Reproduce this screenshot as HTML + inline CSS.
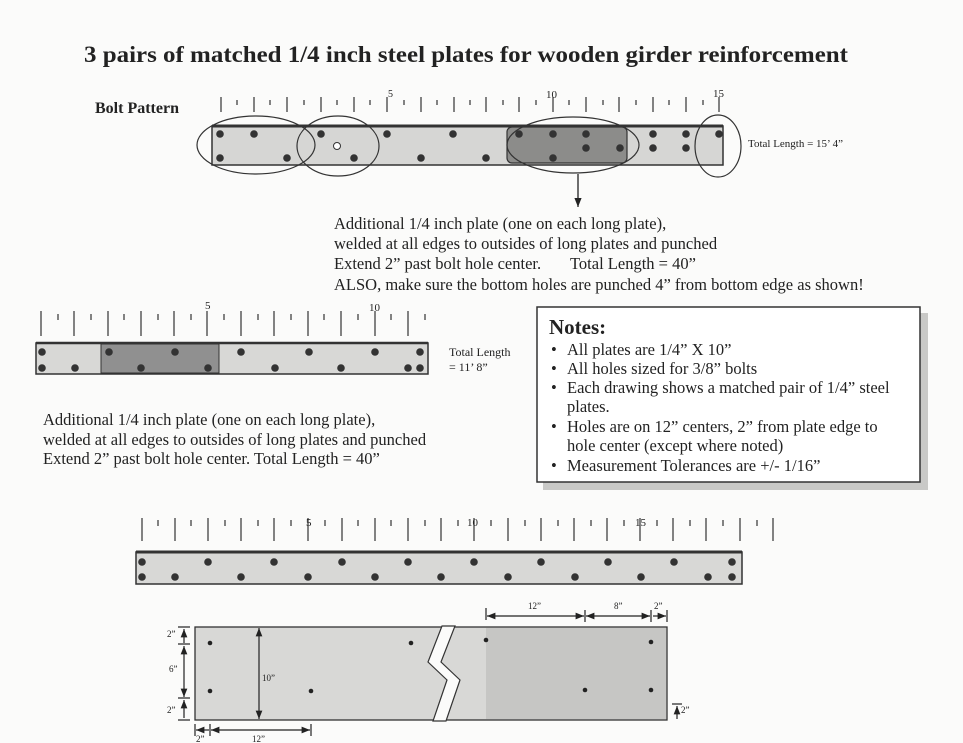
<!DOCTYPE html>
<html><head><meta charset="utf-8"><style>
html,body{margin:0;padding:0;background:#fbfbfa;}
svg{display:block;}
text{font-family:"Liberation Serif",serif;fill:#222;}
</style></head><body>
<svg width="963" height="743" viewBox="0 0 963 743" xmlns="http://www.w3.org/2000/svg">
<defs>
<marker id="ah" viewBox="0 0 10 10" refX="10" refY="5" markerWidth="7" markerHeight="7" orient="auto-start-reverse"><path d="M0,1 L10,5 L0,9 z" fill="#222"/></marker>
</defs>
<rect width="963" height="743" fill="#fbfbfa"/>
<text x="84" y="62" font-size="23" font-weight="bold" textLength="764" lengthAdjust="spacingAndGlyphs">3 pairs of matched 1/4 inch steel plates for wooden girder reinforcement</text>
<text x="95" y="113" font-size="16" font-weight="bold">Bolt Pattern</text>

<!-- Ruler 1 -->
<g stroke="#333" stroke-width="1.2">
<path d="M221 97V112M254 97V112M287 97V112M321 97V112M354 97V112M387 97V112M421 97V112M454 97V112M486 97V112M519 97V112M553 97V112M586 97V112M619 97V112M653 97V112M686 97V112M719 97V112"/>
<path d="M237 100V105M270 100V105M304 100V105M337 100V105M370 100V105M404 100V105M437 100V105M470 100V105M503 100V105M536 100V105M569 100V105M603 100V105M636 100V105M669 100V105M703 100V105"/>
</g>
<text x="388" y="97" font-size="10">5</text>
<text x="546" y="98" font-size="11">10</text>
<text x="713" y="97" font-size="11">15</text>

<rect x="212" y="126" width="511" height="39" fill="#d6d6d4" stroke="#333" stroke-width="1.5"/>
<line x1="212" y1="126" x2="723" y2="126" stroke="#333" stroke-width="3"/>
<rect x="507" y="127" width="120" height="36" rx="5" fill="#8c8c8a" stroke="#333" stroke-width="1.2"/>
<g fill="#333">
<circle cx="220" cy="134" r="3.8"/><circle cx="254" cy="134" r="3.8"/><circle cx="321" cy="134" r="3.8"/><circle cx="387" cy="134" r="3.8"/><circle cx="453" cy="134" r="3.8"/><circle cx="519" cy="134" r="3.8"/><circle cx="553" cy="134" r="3.8"/><circle cx="586" cy="134" r="3.8"/><circle cx="653" cy="134" r="3.8"/><circle cx="686" cy="134" r="3.8"/><circle cx="719" cy="134" r="3.8"/>
<circle cx="586" cy="148" r="3.8"/><circle cx="620" cy="148" r="3.8"/><circle cx="653" cy="148" r="3.8"/><circle cx="686" cy="148" r="3.8"/>
<circle cx="220" cy="158" r="3.8"/><circle cx="287" cy="158" r="3.8"/><circle cx="354" cy="158" r="3.8"/><circle cx="421" cy="158" r="3.8"/><circle cx="486" cy="158" r="3.8"/><circle cx="553" cy="158" r="3.8"/>
</g>
<circle cx="337" cy="146" r="3.5" fill="#fff" stroke="#333"/>
<g fill="none" stroke="#333" stroke-width="1.2">
<ellipse cx="256" cy="145" rx="59" ry="29"/>
<ellipse cx="338" cy="146" rx="41" ry="30"/>
<ellipse cx="573" cy="145" rx="66" ry="28"/>
<ellipse cx="718" cy="146" rx="23" ry="31"/>
</g>
<line x1="578" y1="174" x2="578" y2="207" stroke="#222" stroke-width="1.3" marker-end="url(#ah)"/>
<text x="748" y="147" font-size="11">Total Length = 15’ 4”</text>

<g font-size="16.5">
<text x="334" y="229">Additional 1/4 inch plate (one on each long plate),</text>
<text x="334" y="249">welded at all edges to outsides of long plates and punched</text>
<text x="334" y="269">Extend 2” past bolt hole center.</text>
<text x="570" y="269">Total Length = 40”</text>
<text x="334" y="290">ALSO, make sure the bottom holes are punched 4” from bottom edge as shown!</text>
</g>

<!-- Ruler 2 -->
<g stroke="#333" stroke-width="1.2">
<path d="M41 311V336M74 311V336M108 311V336M141 311V336M174 311V336M207 311V336M241 311V336M274 311V336M308 311V336M341 311V336M375 311V336M408 311V336"/>
<path d="M58 314V320M91 314V320M124 314V320M158 314V320M191 314V320M224 314V320M258 314V320M291 314V320M324 314V320M358 314V320M391 314V320M425 314V320"/>
</g>
<text x="205" y="309" font-size="11">5</text>
<text x="369" y="311" font-size="11">10</text>
<rect x="36" y="343" width="392" height="31" fill="#d8d8d6" stroke="#333" stroke-width="1.5"/>
<line x1="36" y1="343" x2="428" y2="343" stroke="#333" stroke-width="2.5"/>
<rect x="101" y="344" width="118" height="29" fill="#909090" stroke="#333" stroke-width="1"/>
<g fill="#333">
<circle cx="42" cy="352" r="3.8"/><circle cx="109" cy="352" r="3.8"/><circle cx="175" cy="352" r="3.8"/><circle cx="241" cy="352" r="3.8"/><circle cx="309" cy="352" r="3.8"/><circle cx="375" cy="352" r="3.8"/><circle cx="420" cy="352" r="3.8"/>
<circle cx="42" cy="368" r="3.8"/><circle cx="75" cy="368" r="3.8"/><circle cx="141" cy="368" r="3.8"/><circle cx="208" cy="368" r="3.8"/><circle cx="275" cy="368" r="3.8"/><circle cx="341" cy="368" r="3.8"/><circle cx="408" cy="368" r="3.8"/><circle cx="420" cy="368" r="3.8"/>
</g>
<text x="449" y="356" font-size="12">Total Length</text>
<text x="449" y="371" font-size="12">= 11’ 8”</text>

<g font-size="16.5">
<text x="43" y="425">Additional 1/4 inch plate (one on each long plate),</text>
<text x="43" y="445">welded at all edges to outsides of long plates and punched</text>
<text x="43" y="464">Extend 2” past bolt hole center. Total Length = 40”</text>
</g>

<!-- Notes -->
<rect x="543" y="313" width="385" height="177" fill="#c9c9c7"/>
<rect x="537" y="307" width="383" height="175" fill="#fff" stroke="#333" stroke-width="1.5"/>
<text x="549" y="334" font-size="21" font-weight="bold">Notes:</text>
<g font-size="16.5">
<text x="551" y="355">•</text><text x="567" y="355">All plates are 1/4” X 10”</text>
<text x="551" y="374">•</text><text x="567" y="374">All holes sized for 3/8” bolts</text>
<text x="551" y="393">•</text><text x="567" y="393">Each drawing shows a matched pair of 1/4” steel</text>
<text x="567" y="412">plates.</text>
<text x="551" y="432">•</text><text x="567" y="432">Holes are on 12” centers, 2” from plate edge to</text>
<text x="567" y="451">hole center (except where noted)</text>
<text x="551" y="471">•</text><text x="567" y="471">Measurement Tolerances are  +/- 1/16”</text>
</g>

<!-- Ruler 3 -->
<g stroke="#333" stroke-width="1.2">
<path d="M142 518V541M175 518V541M208 518V541M241 518V541M274 518V541M308 518V541M342 518V541M375 518V541M408 518V541M441 518V541M474 518V541M508 518V541M541 518V541M574 518V541M607 518V541M640 518V541M673 518V541M706 518V541M740 518V541M773 518V541"/>
<path d="M158 520V526M191 520V526M225 520V526M258 520V526M291 520V526M325 520V526M358 520V526M391 520V526M425 520V526M458 520V526M491 520V526M525 520V526M558 520V526M591 520V526M624 520V526M657 520V526M690 520V526M723 520V526M757 520V526"/>
</g>
<text x="306" y="526" font-size="11">5</text>
<text x="467" y="526" font-size="11">10</text>
<text x="635" y="526" font-size="11">15</text>
<rect x="136" y="552" width="606" height="32" fill="#d8d8d6" stroke="#333" stroke-width="1.5"/>
<line x1="136" y1="552" x2="742" y2="552" stroke="#333" stroke-width="3"/>
<g fill="#333">
<circle cx="142" cy="562" r="3.8"/><circle cx="208" cy="562" r="3.8"/><circle cx="274" cy="562" r="3.8"/><circle cx="342" cy="562" r="3.8"/><circle cx="408" cy="562" r="3.8"/><circle cx="474" cy="562" r="3.8"/><circle cx="541" cy="562" r="3.8"/><circle cx="608" cy="562" r="3.8"/><circle cx="674" cy="562" r="3.8"/><circle cx="732" cy="562" r="3.8"/>
<circle cx="142" cy="577" r="3.8"/><circle cx="175" cy="577" r="3.8"/><circle cx="241" cy="577" r="3.8"/><circle cx="308" cy="577" r="3.8"/><circle cx="375" cy="577" r="3.8"/><circle cx="441" cy="577" r="3.8"/><circle cx="508" cy="577" r="3.8"/><circle cx="575" cy="577" r="3.8"/><circle cx="641" cy="577" r="3.8"/><circle cx="708" cy="577" r="3.8"/><circle cx="732" cy="577" r="3.8"/>
</g>

<!-- Detail plate -->
<rect x="195" y="627" width="472" height="93" fill="#d8d8d6" stroke="#333" stroke-width="1.3"/>
<rect x="486" y="628" width="180" height="91" fill="#c6c6c4"/>
<path d="M442 626 L455 626 L441 662 L460 680 L446 721 L433 721 L447 680 L428 662 Z" fill="#fbfbfa" stroke="#333" stroke-width="1.2"/>
<g fill="#222">
<circle cx="210" cy="643" r="2.3"/><circle cx="411" cy="643" r="2.3"/><circle cx="486" cy="640" r="2.3"/><circle cx="651" cy="642" r="2.3"/>
<circle cx="210" cy="691" r="2.3"/><circle cx="311" cy="691" r="2.3"/><circle cx="585" cy="690" r="2.3"/><circle cx="651" cy="690" r="2.3"/>
</g>
<g stroke="#222" stroke-width="1.2" fill="none">
<line x1="486" y1="608" x2="486" y2="620"/><line x1="585" y1="610" x2="585" y2="622"/><line x1="651" y1="610" x2="651" y2="622"/><line x1="667" y1="610" x2="667" y2="622"/>
<line x1="487" y1="616" x2="584" y2="616" marker-start="url(#ah)" marker-end="url(#ah)"/>
<line x1="586" y1="616" x2="650" y2="616" marker-start="url(#ah)" marker-end="url(#ah)"/>
<line x1="653" y1="616" x2="666" y2="616" marker-end="url(#ah)"/>
<line x1="178" y1="627" x2="190" y2="627"/><line x1="178" y1="644" x2="190" y2="644"/><line x1="178" y1="698" x2="190" y2="698"/><line x1="178" y1="720" x2="190" y2="720"/>
<line x1="184" y1="629" x2="184" y2="643" marker-start="url(#ah)"/>
<line x1="184" y1="646" x2="184" y2="697" marker-start="url(#ah)" marker-end="url(#ah)"/>
<line x1="184" y1="700" x2="184" y2="718" marker-start="url(#ah)"/>
<line x1="259" y1="628" x2="259" y2="719" marker-start="url(#ah)" marker-end="url(#ah)"/>
<line x1="195" y1="724" x2="195" y2="736"/><line x1="210" y1="724" x2="210" y2="736"/><line x1="311" y1="724" x2="311" y2="736"/>
<line x1="196" y1="730" x2="209" y2="730" marker-start="url(#ah)"/>
<line x1="211" y1="730" x2="310" y2="730" marker-start="url(#ah)" marker-end="url(#ah)"/>
<line x1="672" y1="704" x2="682" y2="704"/>
<line x1="677" y1="706" x2="677" y2="719" marker-start="url(#ah)"/>
</g>
<g font-size="9">
<text x="528" y="609">12”</text><text x="614" y="609">8”</text><text x="654" y="609">2”</text>
<text x="167" y="637">2”</text><text x="169" y="672">6”</text><text x="167" y="713">2”</text>
<text x="262" y="681">10”</text>
<text x="196" y="742">2”</text><text x="252" y="742">12”</text>
<text x="681" y="713">2”</text>
</g>
</svg>
</body></html>
